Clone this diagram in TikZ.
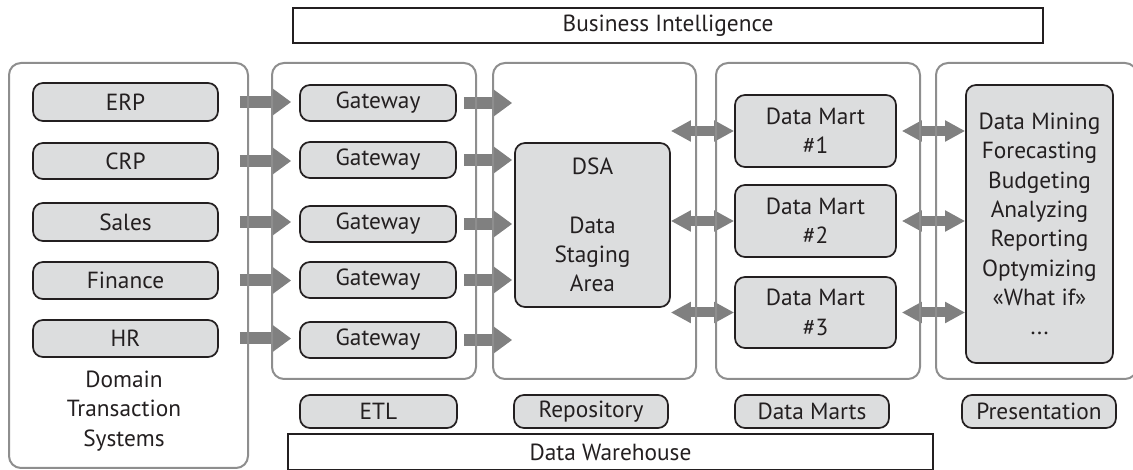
\documentclass[tikz,border=0pt]{standalone}
\usepackage{fontspec}
\setmainfont{PT Sans}
\usetikzlibrary{arrows.meta}
\definecolor{boxfill}{HTML}{DCDDDE}
\definecolor{panelline}{HTML}{8E8E8E}
\definecolor{arrowgray}{HTML}{808080}
\definecolor{ink}{HTML}{231F20}
\tikzset{
  panel/.style={draw=panelline, line width=1.5pt, rounded corners=9pt},
  gbox/.style={draw=ink, line width=1.3pt, fill=boxfill, rounded corners=7.5pt, inner sep=0pt, align=center, text=ink, font=\fontsize{17.5}{22}\selectfont},
  sbox/.style={draw=ink, line width=1.3pt, inner sep=0pt, text=ink, font=\fontsize{17.5}{22}\selectfont},
  plain/.style={inner sep=0pt, align=center, text=ink, font=\fontsize{17.5}{22}\selectfont},
  onearrow/.style={draw=arrowgray, line width=9pt, -{Triangle[length=14pt, width=19.5pt]}},
  twoarrow/.style={draw=arrowgray, line width=7.5pt, {Triangle[length=15pt, width=15pt]}-{Triangle[length=15pt, width=15pt]}},
}
\newcommand{\pbox}[6]{% name, x1, y1, x2, y2, text
  \node[gbox, minimum width={(#4-#2)*0.75pt}, minimum height={(#5-#3)*0.75pt}] (#1) at ({(#2+#4)/2},{(#3+#5)/2}) {#6};}
\begin{document}
\begin{tikzpicture}[x=0.75pt, y=-0.75pt]
\useasboundingbox (0,0) rectangle (1133,470);

% boxes
\pbox{erp}{33}{83}{218}{121}{ERP}
\pbox{crp}{33}{143}{218}{179}{CRP}
\pbox{sales}{33}{203}{218}{241}{Sales}
\pbox{fin}{33}{262}{218}{299}{Finance}
\pbox{hr}{33}{320}{218}{357}{HR}

\pbox{gw1}{300}{85}{456}{121}{Gateway}
\pbox{gw2}{300}{142}{456}{178}{Gateway}
\pbox{gw3}{300}{206}{456}{242}{Gateway}
\pbox{gw4}{300}{262}{456}{298}{Gateway}
\pbox{gw5}{300}{322}{456}{358}{Gateway}

\pbox{dsa}{515}{143}{670}{307}{DSA\\[22pt]Data\\Staging\\Area}

\pbox{dm1}{735}{95}{896}{167}{Data Mart\\\#1}
\pbox{dm2}{735}{185}{896}{257}{Data Mart\\\#2}
\pbox{dm3}{735}{277}{896}{348}{Data Mart\\\#3}

\pbox{pres}{966}{85}{1113}{363}{Data Mining\\Forecasting\\Budgeting\\Analyzing\\Reporting\\Optymizing\\«What if»\\...}

\pbox{etl}{300}{395}{457}{428}{ETL}
\pbox{repo}{514}{395}{668}{428}{Repository}
\pbox{marts}{735}{395}{889}{428}{Data Marts}
\pbox{prl}{962}{395}{1116}{428}{Presentation}

\node[sbox, minimum width={750*0.75pt}, minimum height={35*0.75pt}] (bi) at (668,25.5) {Business Intelligence};
\node[sbox, minimum width={645*0.75pt}, minimum height={36*0.75pt}] (dw) at (610.5,452) {Data Warehouse};

\node[plain] (dts) at (124,411) {Domain\\Transaction\\Systems};

% arrows
\foreach \s/\g in {erp/gw1, crp/gw2, sales/gw3, fin/gw4, hr/gw5}{
  \draw[onearrow, shorten <=15.75pt, shorten >=6pt] (\s.east) -- (\s.east -| \g.west);
  \draw[onearrow, shorten <=5.25pt, shorten >=1.5pt] (\g.east) -- (\g.east -| dsa.west);
}
\foreach \m in {dm1, dm2, dm3}{
  \draw[twoarrow] (\m.west -| dsa.east) -- (\m.west);
  \draw[twoarrow, shorten <=3.75pt] (\m.east) -- (\m.east -| pres.west);
}

% panels
\draw[panel] (9,63) rectangle (248,468);
\draw[panel] (272,63) rectangle (476,379);
\draw[panel] (493,63) rectangle (696,379);
\draw[panel] (716,63) rectangle (920,379);
\draw[panel] (936,63) rectangle (1137,379);
\end{tikzpicture}
\end{document}
